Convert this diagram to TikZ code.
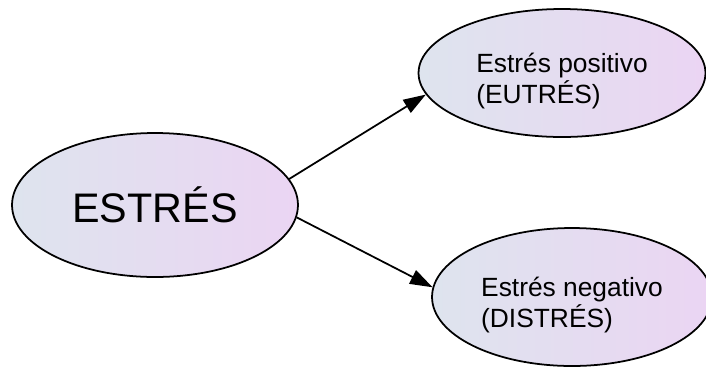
\documentclass[tikz,border=0pt]{standalone}
\usepackage{fontspec}
\setmainfont{Liberation Sans}
\definecolor{cloudl}{HTML}{DEE4EE}
\definecolor{cloudr}{HTML}{EBD5F3}
\usetikzlibrary{arrows.meta,shapes.geometric,positioning}
\newcommand{\toppad}{\rule{0pt}{20.5pt}}
\tikzset{
  bubble/.style={ellipse,draw=black,line width=1pt,left color=cloudl,right color=cloudr,
    inner sep=0pt,align=left,font=\fontsize{15}{17.5}\selectfont},
  bubble_big/.style={bubble,minimum width=5.72cm,minimum height=2.88cm,
    font=\fontsize{23.5}{26}\selectfont},
  arr/.style={-{Triangle[length=0.45cm,width=0.3cm]},draw=black,line width=1pt},
}
\begin{document}
\begin{tikzpicture}[x=0.02cm,y=-0.02cm]
  \useasboundingbox (0,0) rectangle (706,366);

  \node[bubble_big] (estres) at (155,205) {ESTRÉS};
  \node[bubble,minimum width=5.74cm,minimum height=2.56cm] (eutres) at (562,73)
    {\toppad Estrés positivo\\(EUTRÉS)};
  \node[bubble,minimum width=5.6cm,minimum height=2.76cm] (distres) at (572,297)
    {\toppad Estrés negativo\\(DISTRÉS)};

  \draw[arr] (estres.11) -- (eutres.189);
  \draw[arr] (estres.-5) -- (distres.176);
\end{tikzpicture}
\end{document}
